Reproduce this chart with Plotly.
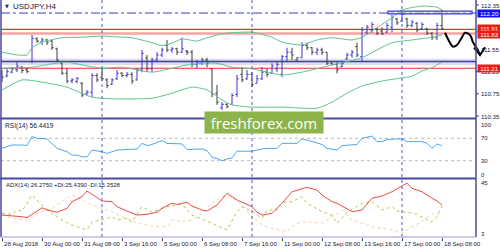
import plotly.graph_objects as go

# ---------------- data ----------------
bar_index = list(range(89))
bar_open = [111.12, 111.07, 111.14, 111.18, 111.23, 111.18, 111.33, 111.74, 111.68, 111.72,
            111.70, 111.56, 111.30, 111.12, 110.98, 110.97, 110.94, 110.75, 110.78, 111.08,
            111.05, 111.00, 110.92, 111.02, 111.12, 111.08, 111.10, 111.00, 111.18, 111.40,
            111.20, 111.36, 111.45, 111.62, 111.54, 111.56, 111.50, 111.52, 111.50, 111.28,
            111.30, 111.36, 111.20, 110.76, 110.50, 110.56, 110.56, 110.74, 111.10, 111.02,
            111.10, 110.94, 111.02, 111.14, 111.12, 111.20, 111.10, 111.42, 111.50, 111.36,
            111.40, 111.62, 111.58, 111.50, 111.54, 111.50, 111.30, 111.28, 111.24, 111.38,
            111.45, 111.60, 111.42, 111.86, 111.90, 111.92, 111.88, 111.86, 111.95, 112.10,
            112.06, 112.10, 111.98, 112.02, 111.92, 111.92, 111.84, 111.76, 111.98]
bar_high = [111.18, 111.20, 111.23, 111.32, 111.25, 111.23, 111.81, 111.77, 111.76, 111.74,
            111.72, 111.58, 111.32, 111.21, 111.03, 111.05, 110.96, 110.82, 111.12, 111.12,
            111.21, 111.03, 111.03, 111.18, 111.14, 111.14, 111.14, 111.21, 111.54, 111.45,
            111.40, 111.50, 111.58, 111.72, 111.59, 111.58, 111.76, 111.54, 111.54, 111.36,
            111.40, 111.40, 111.21, 110.91, 110.60, 110.58, 110.76, 111.09, 111.23, 111.18,
            111.14, 111.09, 111.23, 111.21, 111.30, 111.32, 111.45, 111.58, 111.58, 111.41,
            111.68, 111.67, 111.59, 111.58, 111.58, 111.50, 111.32, 111.32, 111.32, 111.49,
            111.54, 111.67, 111.95, 111.99, 112.04, 111.94, 111.95, 112.03, 112.17, 112.12,
            112.22, 112.12, 112.08, 112.04, 112.04, 111.94, 111.86, 112.03, 112.26]
bar_low = [110.96, 111.05, 111.12, 111.14, 111.12, 111.12, 111.30, 111.67, 111.63, 111.63,
           111.54, 111.32, 111.09, 110.94, 110.94, 110.94, 110.69, 110.73, 110.69, 110.96,
           110.98, 110.85, 110.91, 111.00, 111.05, 111.05, 110.93, 110.99, 111.14, 111.14,
           111.14, 111.32, 111.41, 111.50, 111.49, 111.45, 111.49, 111.45, 111.23, 111.21,
           111.27, 111.23, 110.69, 110.55, 110.46, 110.49, 110.55, 110.69, 110.96, 111.00,
           110.87, 110.94, 111.00, 111.05, 111.12, 111.14, 111.05, 111.32, 111.36, 111.32,
           111.40, 111.54, 111.45, 111.45, 111.45, 111.27, 111.27, 111.12, 111.23, 111.36,
           111.40, 111.41, 111.32, 111.81, 111.85, 111.81, 111.81, 111.85, 111.86, 111.99,
           112.04, 111.94, 111.95, 111.86, 111.90, 111.81, 111.72, 111.72, 111.90]
bar_close = [111.05, 111.15, 111.20, 111.25, 111.17, 111.15, 111.75, 111.70, 111.72, 111.68,
             111.58, 111.36, 111.12, 110.98, 111.00, 111.03, 110.73, 110.78, 111.08, 111.00,
             111.02, 110.90, 111.00, 111.12, 111.08, 111.10, 110.98, 111.18, 111.48, 111.20,
             111.36, 111.45, 111.54, 111.54, 111.56, 111.50, 111.56, 111.50, 111.28, 111.32,
             111.36, 111.30, 110.75, 110.60, 110.56, 110.52, 110.72, 111.02, 111.00, 111.10,
             110.92, 111.02, 111.14, 111.10, 111.25, 111.28, 111.42, 111.50, 111.45, 111.40,
             111.62, 111.58, 111.50, 111.54, 111.50, 111.30, 111.28, 111.18, 111.30, 111.45,
             111.50, 111.45, 111.90, 111.95, 112.00, 111.84, 111.83, 111.98, 112.12, 112.03,
             112.18, 111.98, 112.04, 111.90, 112.00, 111.84, 111.76, 111.98, 111.92]

bb_upper_bar = [0, 3, 5, 6, 8, 12, 16, 20, 24, 26, 30, 32, 34, 36, 39, 41, 44, 46, 50, 54,
                56, 60, 63, 66, 70, 72, 75, 78, 80, 84, 87, 88]
bb_upper = [111.50, 111.45, 111.45, 111.58, 111.68, 111.76, 111.77, 111.79, 111.77, 111.76,
            111.67, 111.62, 111.66, 111.74, 111.70, 111.76, 111.83, 111.85, 111.86, 111.77,
            111.68, 111.63, 111.72, 111.76, 111.72, 111.77, 111.94, 112.12, 112.26, 112.33,
            112.31, 112.26]
bb_mid_bar = [0, 6, 10, 13, 16, 20, 24, 30, 34, 37, 40, 43, 46, 50, 56, 60, 66, 72, 75, 78,
              82, 86, 88]
bb_mid = [111.21, 111.23, 111.29, 111.32, 111.27, 111.21, 111.23, 111.14, 111.21, 111.27,
          111.30, 111.30, 111.23, 111.20, 111.09, 111.14, 111.27, 111.40, 111.54, 111.67,
          111.72, 111.77, 111.81]
bb_lower_bar = [0, 4, 8, 13, 18, 22, 30, 34, 38, 41, 44, 46, 50, 56, 63, 66, 69, 72, 76, 82,
                84, 86, 88]
bb_lower = [110.82, 111.00, 110.96, 110.87, 110.69, 110.66, 110.67, 110.76, 110.87, 110.82,
            110.64, 110.55, 110.51, 110.51, 110.49, 110.60, 110.76, 110.89, 110.98, 111.07,
            111.16, 111.22, 111.32]

rsi_bar = [0, 2, 4, 5, 6, 7, 9, 10, 11, 13, 14, 15, 16, 17, 18, 20, 21, 23, 25, 27, 28, 29,
           30, 32, 33, 36, 37, 39, 40, 41, 42, 43, 44, 45, 46, 47, 50, 52, 53, 55, 56, 59,
           60, 61, 63, 64, 65, 67, 68, 70, 71, 72, 74, 75, 76, 77, 79, 80, 81, 84, 85, 86,
           87, 88]
rsi_value = [52, 58, 58, 57, 73, 70, 69, 61, 52, 46, 40, 40, 37, 37, 49, 46, 43, 49, 50, 51,
             61, 57, 59, 66, 61, 60, 50, 51, 51, 48, 36, 34, 30, 33, 35, 47, 47, 51, 52, 52,
             61, 61, 69, 67, 61, 59, 52, 49, 57, 58, 59, 70, 74, 64, 64, 68, 69, 69, 64, 64,
             61, 52, 60, 56.44]

adx_bar = [0, 2, 4, 5, 6, 8, 9, 11, 13, 14, 16, 17, 18, 20, 22, 23, 25, 27, 29, 31, 32, 34,
           35, 37, 38, 40, 41, 43, 45, 47, 48, 50, 51, 52, 54, 56, 58, 59, 61, 63, 64, 66,
           67, 70, 72, 74, 76, 78, 80, 81, 82, 84, 86, 87, 88]
adx_value = [18.2, 17.7, 16.8, 16.0, 18.8, 24.2, 22.3, 20.5, 23.7, 29.2, 33.3, 38.0, 35.3,
             29.8, 29.2, 25.1, 21.5, 18.2, 18.8, 20.5, 23.7, 27.9, 27.0, 28.7, 25.6, 22.3,
             21.5, 26.5, 36.1, 30.6, 28.7, 25.1, 20.5, 18.2, 19.6, 27.9, 37.4, 38.8, 41.0,
             38.8, 34.7, 29.2, 27.9, 21.0, 22.3, 32.0, 33.9, 37.4, 42.1, 44.5, 40.2, 37.4,
             32.0, 29.8, 26.275]
plus_di_bar = [0, 2, 3, 4, 6, 8, 10, 12, 14, 17, 18, 20, 22, 23, 25, 26, 28, 30, 32, 33, 36,
               38, 40, 42, 45, 47, 48, 50, 52, 53, 55, 56, 58, 60, 61, 64, 66, 67, 69, 72,
               74, 76, 78, 79, 81, 83, 85, 86, 87, 88]
plus_di = [19.6, 18.8, 22.3, 21.5, 34.7, 26.5, 19.6, 14.1, 10.0, 5.9, 12.7, 14.1, 16.8, 14.1,
           15.5, 12.7, 25.1, 20.5, 23.7, 25.1, 27.0, 18.2, 14.9, 11.4, 5.9, 21.0, 25.1, 21.5,
           15.5, 22.3, 22.3, 28.7, 29.2, 33.3, 27.9, 21.0, 18.2, 11.4, 20.5, 27.9, 29.2, 22.3,
           25.1, 21.5, 20.5, 18.8, 14.1, 12.7, 16.8, 25.439]
minus_di_bar = [0, 2, 5, 7, 10, 13, 14, 16, 18, 20, 22, 24, 27, 29, 31, 33, 34, 36, 38, 40,
                42, 44, 46, 48, 50, 52, 54, 57, 59, 61, 64, 66, 68, 70, 72, 74, 76, 78, 80,
                82, 84, 86, 87, 88]
minus_di = [18.2, 15.5, 14.1, 19.6, 23.7, 32.0, 34.7, 30.6, 26.5, 23.7, 21.0, 16.8, 11.4,
            10.0, 8.6, 8.6, 14.1, 12.7, 14.1, 19.6, 27.9, 33.3, 33.3, 26.5, 16.8, 10.0, 7.3,
            4.5, 11.4, 12.7, 11.4, 16.8, 22.3, 14.1, 11.4, 8.6, 7.3, 5.9, 3.2, 8.6, 12.7,
            18.8, 19.6, 15.353]

# hand-drawn forecast arrow (bar position, price)
arrow_bar = [88.6, 89.6, 90.2, 91.0, 92.0, 92.6, 93.6, 94.2, 95.0, 95.6]
arrow_price = [111.85, 111.67, 111.60, 111.63, 111.77, 111.85, 111.81, 111.68, 111.56, 111.45]
arrow_head_bar = [94.4, 95.6, 96.6]
arrow_head_price = [111.58, 111.45, 111.59]

# horizontal levels
dashdot_level = 112.205
red_levels = [111.91, 111.21]
pink_level = 111.835
blue_level = 111.33
gray_band = [111.27, 111.38]
box_bars = [77.2, 94.0]
box_prices = [112.19, 112.24]

price_ticks = [112.35, 111.55, 111.15, 110.75, 110.35]
price_tick_labels = ["112.35", "111.55", "111.15", "110.75", "110.35"]
marker_labels = ["112.20", "111.91", "111.83", "111.21"]
marker_values = [112.205, 111.925, 111.825, 111.21]
marker_colors = ["#1010f0", "#f01818", "#f01818", "#f01818"]

rsi_levels = [70, 30]
rsi_tick_values = [100, 70, 30, 0]
rsi_tick_labels = ["100", "70", "30", "0"]
rsi_label_shift = [-3, 0, 0, 3]
adx_tick_values = [45, 3]
adx_tick_labels = ["45", "3"]

separator_bars = [20, 50, 80]
time_label_bars = [0, 8, 16, 24, 32, 40, 48, 56, 64, 72, 80, 88]
time_labels = ["28 Aug 2018", "30 Aug 00:00", "31 Aug 08:00", "3 Sep 16:00", "5 Sep 00:00",
               "6 Sep 08:00", "7 Sep 16:00", "11 Sep 00:00", "12 Sep 08:00", "13 Sep 16:00",
               "17 Sep 00:00", "18 Sep 08:00"]

# ---------------- style ----------------
W, H = 500, 250
FONT = "Liberation Sans"
FRAME = "#4848a8"
BULL = "#3636d0"
BEAR = "#3a3a3a"
BB = "#5cc48a"
XR = [-0.2, 97.6]          # bar range across extended domain
XD = [1 / W, 490 / W]
RIGHT = 476 / W
LBL = 6.2

def py(p):
    return 1 - p / H

fig = go.Figure()

fig.add_trace(go.Ohlc(x=bar_index, open=bar_open, high=bar_high, low=bar_low, close=bar_close,
                      xaxis="x", yaxis="y", tickwidth=0.35, hoverinfo="skip",
                      increasing=dict(line=dict(color=BULL, width=1)),
                      decreasing=dict(line=dict(color=BEAR, width=1)), showlegend=False))
for bx, by in [(bb_upper_bar, bb_upper), (bb_mid_bar, bb_mid), (bb_lower_bar, bb_lower)]:
    fig.add_trace(go.Scatter(x=bx, y=by, mode="lines", line=dict(color=BB, width=1, shape="spline", smoothing=0.6),
                             xaxis="x", yaxis="y", hoverinfo="skip", showlegend=False))
fig.add_trace(go.Scatter(x=arrow_bar, y=arrow_price, mode="lines",
                         line=dict(color="black", width=2, shape="spline", smoothing=1.0),
                         xaxis="x", yaxis="y", hoverinfo="skip", showlegend=False))
fig.add_trace(go.Scatter(x=arrow_head_bar, y=arrow_head_price, mode="lines",
                         line=dict(color="black", width=2),
                         xaxis="x", yaxis="y", hoverinfo="skip", showlegend=False))

fig.add_trace(go.Scatter(x=rsi_bar, y=rsi_value, mode="lines", line=dict(color="#4ea6f2", width=1),
                         xaxis="x2", yaxis="y2", hoverinfo="skip", showlegend=False))

fig.add_trace(go.Scatter(x=minus_di_bar, y=minus_di, mode="lines",
                         line=dict(color="#f9cfa6", width=1, dash="dot"),
                         xaxis="x3", yaxis="y3", hoverinfo="skip", showlegend=False))
fig.add_trace(go.Scatter(x=plus_di_bar, y=plus_di, mode="lines",
                         line=dict(color="#a8d048", width=1, dash="dot"),
                         xaxis="x3", yaxis="y3", hoverinfo="skip", showlegend=False))
fig.add_trace(go.Scatter(x=adx_bar, y=adx_value, mode="lines", line=dict(color="#f24a4a", width=1),
                         xaxis="x3", yaxis="y3", hoverinfo="skip", showlegend=False))

ax_common = dict(showgrid=False, zeroline=False, showline=False, fixedrange=True)
fig.update_layout(
    width=W, height=H, autosize=False,
    margin=dict(l=0, r=0, t=0, b=0, pad=0),
    paper_bgcolor="white", plot_bgcolor="white",
    font=dict(family=FONT, size=7, color="#202020"),
    showlegend=False,
    xaxis=dict(domain=XD, range=XR, anchor="y", showticklabels=False, ticks="",
               rangeslider=dict(visible=False), **ax_common),
    yaxis=dict(domain=[py(118), py(0)], range=[110.314, 112.44], anchor="x",
               showticklabels=False, ticks="", **ax_common),
    xaxis2=dict(domain=XD, range=XR, anchor="y2", showticklabels=False, ticks="", **ax_common),
    yaxis2=dict(domain=[py(178), py(119)], range=[-0.9, 104.5], anchor="x2",
                showticklabels=False, ticks="", **ax_common),
    xaxis3=dict(domain=XD, range=XR, anchor="y3", showticklabels=False, ticks="outside",
                ticklen=3, tickcolor="#404040", tickwidth=1, tickmode="array",
                tickvals=time_label_bars, **ax_common),
    yaxis3=dict(domain=[py(237), py(179)], range=[0.11, 47.88], anchor="x3",
                showticklabels=False, ticks="", **ax_common),
)

shapes = []
# gray band + blue support
shapes.append(dict(type="rect", xref="paper", yref="y", x0=1 / W, x1=RIGHT,
                   y0=gray_band[0], y1=gray_band[1], fillcolor="#dedede", line=dict(width=0), layer="below"))
shapes.append(dict(type="line", xref="paper", yref="y", x0=1 / W, x1=RIGHT,
                   y0=blue_level, y1=blue_level, line=dict(color="#3a3ac8", width=1.5), layer="below"))
shapes.append(dict(type="line", xref="paper", yref="y", x0=1 / W, x1=RIGHT,
                   y0=pink_level, y1=pink_level, line=dict(color="#f6a3a3", width=2.5), layer="below"))
for lv in red_levels:
    shapes.append(dict(type="line", xref="paper", yref="y", x0=1 / W, x1=RIGHT,
                       y0=lv, y1=lv, line=dict(color="#f03030", width=1.2), layer="below"))
shapes.append(dict(type="line", xref="paper", yref="y", x0=1 / W, x1=RIGHT,
                   y0=dashdot_level, y1=dashdot_level, line=dict(color="#3a3ad0", width=1, dash="dashdot"),
                   layer="below"))
shapes.append(dict(type="rect", xref="x", yref="y", x0=box_bars[0], x1=box_bars[1],
                   y0=box_prices[0], y1=box_prices[1], fillcolor="rgba(225,225,250,0.5)",
                   line=dict(color="#3a3ad0", width=1.2)))
# RSI levels
for lv in rsi_levels:
    shapes.append(dict(type="line", xref="paper", yref="y2", x0=1 / W, x1=RIGHT,
                       y0=lv, y1=lv, line=dict(color="#bcbcbc", width=1, dash="dot"), layer="below"))
# period separators
for b in separator_bars:
    shapes.append(dict(type="line", xref="x", yref="paper", x0=b, x1=b, y0=py(237), y1=py(0),
                       line=dict(color="#5050d8", width=1, dash="dot")))
# price ticks on the right axis
for t in price_ticks:
    shapes.append(dict(type="line", xref="paper", yref="y", x0=RIGHT, x1=479 / W, y0=t, y1=t,
                       line=dict(color="#404040", width=1)))
# frame
shapes.append(dict(type="line", xref="paper", yref="paper", x0=1 / W, x1=1 / W, y0=py(237), y1=1,
                   line=dict(color=FRAME, width=1.5)))
shapes.append(dict(type="line", xref="paper", yref="paper", x0=RIGHT, x1=RIGHT, y0=py(237), y1=1,
                   line=dict(color=FRAME, width=1.5)))
for yy, w in [(118.5, 2), (178.5, 2.2), (237, 1)]:
    shapes.append(dict(type="line", xref="paper", yref="paper", x0=0, x1=RIGHT, y0=py(yy), y1=py(yy),
                       line=dict(color=FRAME if w > 1 else "#9a9ad0", width=w)))
fig.update_layout(shapes=shapes)

ann = []
ann.append(dict(text="▼", xref="paper", yref="paper", x=3 / W, y=py(6), xanchor="left",
                yanchor="middle", showarrow=False, font=dict(size=5, color="#20206a", family="DejaVu Sans")))
ann.append(dict(text="USDJPY,H4", xref="paper", yref="paper", x=11 / W, y=py(6), xanchor="left",
                yanchor="middle", showarrow=False, font=dict(size=8, color="#202040", family=FONT)))
ann.append(dict(text="RSI(14) 56.4419", xref="paper", yref="paper", x=3 / W, y=py(125.5), xanchor="left",
                yanchor="middle", showarrow=False, font=dict(size=6.6, color="#202040", family=FONT)))
ann.append(dict(text="ADX(14) 26.2750 +DI:25.4390 -DI:15.3528", xref="paper", yref="paper",
                x=4 / W, y=py(185), xanchor="left", yanchor="middle", showarrow=False,
                font=dict(size=6.0, color="#202040", family=FONT)))
for t, lab in zip(price_ticks, price_tick_labels):
    ann.append(dict(text=lab, xref="paper", yref="y", x=479 / W, y=t, xanchor="left", yanchor="middle",
                    showarrow=False, font=dict(size=LBL, color="#202040", family=FONT)))
for v, lab, c in zip(marker_values, marker_labels, marker_colors):
    ann.append(dict(text=lab, xref="paper", yref="y", x=477 / W, y=v, xanchor="left", yanchor="middle",
                    showarrow=False, bgcolor=c, borderpad=0, width=23, align="center",
                    font=dict(size=LBL, color="white", family=FONT)))
for v, lab, sh in zip(rsi_tick_values, rsi_tick_labels, rsi_label_shift):
    ann.append(dict(text=lab, xref="paper", yref="y2", x=479 / W, y=v, xanchor="left", yanchor="middle",
                    yshift=sh, showarrow=False, font=dict(size=6.0, color="#202040", family=FONT)))
for v, lab in zip(adx_tick_values, adx_tick_labels):
    ann.append(dict(text=lab, xref="paper", yref="y3", x=479 / W, y=v, xanchor="left", yanchor="middle",
                    yshift=-0.5, showarrow=False, font=dict(size=6.0, color="#202040", family=FONT)))
for b, lab in zip(time_label_bars, time_labels):
    ann.append(dict(text=lab, xref="x3", yref="paper", x=b, y=py(243), xanchor="left", yanchor="middle",
                    showarrow=False, font=dict(size=6.1, color="#202040", family=FONT)))
# watermark
ann.append(dict(text="freshforex.com", xref="paper", yref="paper", x=264 / W, y=py(122.5),
                xanchor="center", yanchor="middle", showarrow=False, bgcolor="#8db44a",
                width=118, height=21, borderpad=0, font=dict(size=15, color="white", family="Open Sans")))
fig.update_layout(annotations=ann)

fig.write_html("out.html", config={"displayModeBar": False, "staticPlot": True})
